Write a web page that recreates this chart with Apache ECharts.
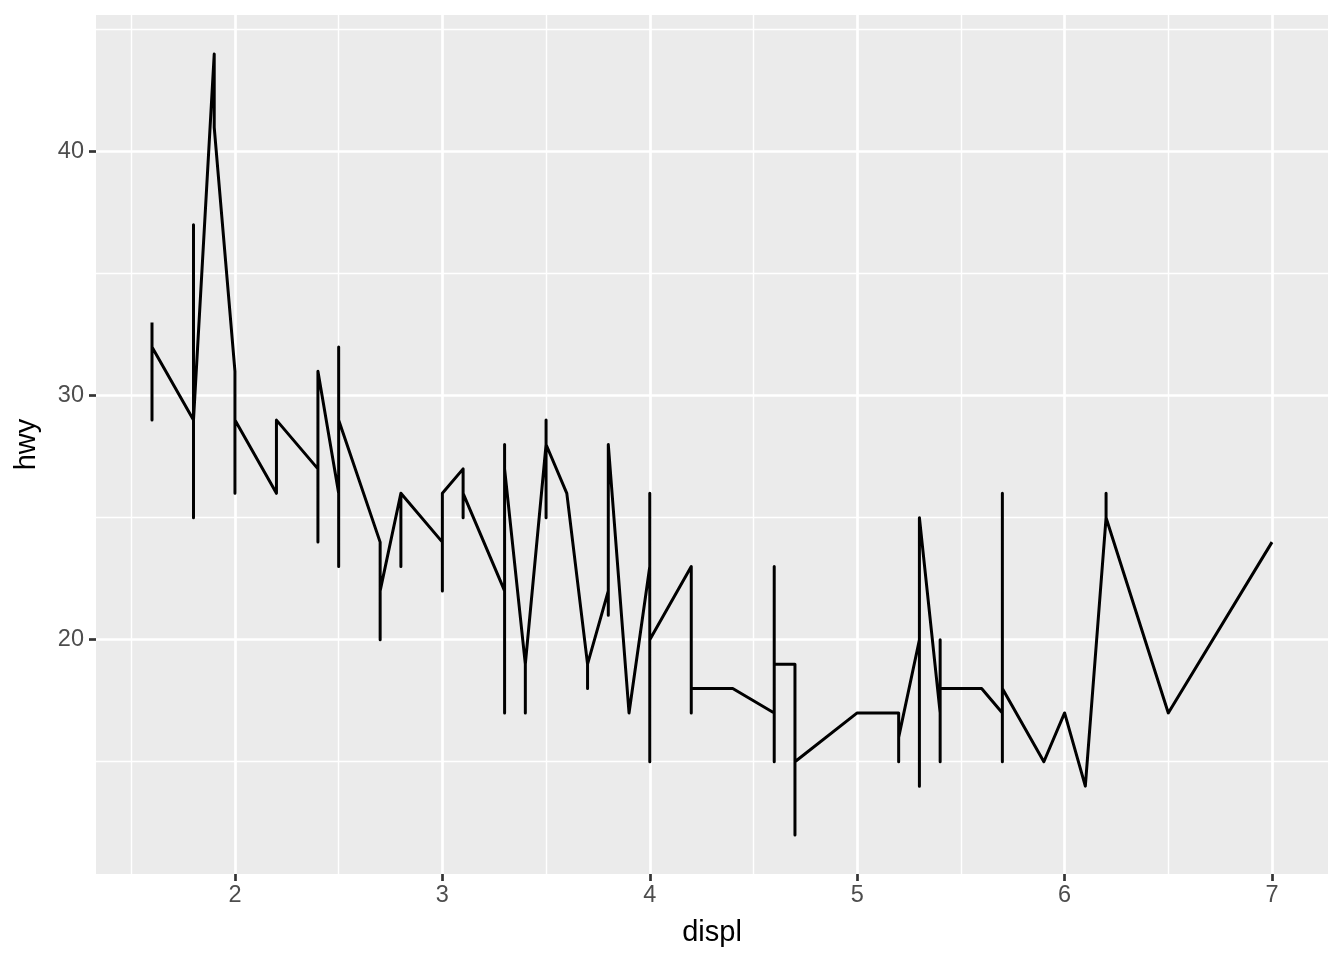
<!DOCTYPE html>
<html>
<head>
<meta charset="utf-8">
<script src="https://cdn.jsdelivr.net/npm/echarts@6/dist/echarts.min.js"></script>
<style>
html,body{margin:0;padding:0;background:#ffffff;}
#chart{width:1344px;height:960px;}
</style>
</head>
<body>
<div id="chart"></div>
<script>
// path points in drawing order (sorted by displ)
const displ = [
  1.6,1.6,1.6,
  1.8,1.8,1.8,1.8,
  1.9,1.9,
  2.0,2.0,2.0,
  2.2,2.2,
  2.4,2.4,2.4,
  2.5,2.5,2.5,2.5,
  2.7,2.7,2.7,
  2.8,2.8,2.8,
  3.0,3.0,3.0,
  3.1,3.1,3.1,
  3.3,3.3,3.3,3.3,
  3.4,3.4,3.4,
  3.5,3.5,3.5,3.5,
  3.6,
  3.7,3.7,3.7,
  3.8,3.8,3.8,
  3.9,
  4.0,4.0,4.0,4.0,
  4.2,4.2,4.2,
  4.4,
  4.6,4.6,4.6,4.6,
  4.7,4.7,4.7,
  5.0,
  5.2,5.2,5.2,
  5.3,5.3,5.3,
  5.4,5.4,5.4,5.4,
  5.6,
  5.7,5.7,5.7,5.7,
  5.9,
  6.0,
  6.1,
  6.2,6.2,6.2,
  6.5,
  7.0
];
const hwy = [
  33,29,32,
  29,37,25,29,
  44,41,
  31,26,29,
  26,29,
  27,24,31,
  26,32,23,29,
  24,20,22,
  26,23,26,
  24,22,26,
  27,25,26,
  22,28,17,27,
  19,17,19,
  28,29,25,28,
  26,
  19,18,19,
  22,21,28,
  17,
  23,26,15,20,
  23,17,18,
  18,
  17,23,15,19,
  19,12,15,
  17,
  17,15,16,
  20,14,25,
  17,20,15,18,
  18,
  17,26,15,18,
  15,
  17,
  14,
  25,26,25,
  17,
  24
];
const xMajor = [2,3,4,5,6,7];
const xMinor = [1.5,2.5,3.5,4.5,5.5,6.5];
const yMajor = [20,30,40];
const yMinor = [15,25,35,45];

const points = displ.map((x,i)=>[x,hwy[i]]);

const gridLines = []
  .concat(xMinor.map(v=>({xAxis:v, lineStyle:{width:1.4}})))
  .concat(yMinor.map(v=>({yAxis:v, lineStyle:{width:1.4}})))
  .concat(xMajor.map(v=>({xAxis:v, lineStyle:{width:2.7}})))
  .concat(yMajor.map(v=>({yAxis:v, lineStyle:{width:2.7}})));

const chart = echarts.init(document.getElementById('chart'), null, {renderer:'canvas'});
const FONT = '"Liberation Sans", Arial, Helvetica, sans-serif';
chart.setOption({
  animation:false,
  backgroundColor:'#ffffff',
  grid:{left:96,right:16,top:15,bottom:86,show:true,backgroundColor:'#EBEBEB',borderWidth:0,containLabel:false},
  xAxis:{
    type:'value',min:1.33,max:7.27,
    name:'displ',nameLocation:'middle',nameGap:44,
    nameTextStyle:{fontFamily:FONT,fontSize:29,color:'#000000'},
    axisLine:{show:false},
    axisTick:{show:true,length:7,lineStyle:{color:'#333333',width:2.7},customValues:xMajor},
    axisLabel:{fontFamily:FONT,fontSize:23.5,color:'#4D4D4D',margin:10,customValues:xMajor},
    splitLine:{show:false}
  },
  yAxis:{
    type:'value',min:10.4,max:45.6,
    name:'hwy',nameLocation:'middle',nameGap:55,nameRotate:90,
    nameTextStyle:{fontFamily:FONT,fontSize:29,color:'#000000'},
    axisLine:{show:false},
    axisTick:{show:true,length:7,lineStyle:{color:'#333333',width:2.7},customValues:yMajor},
    axisLabel:{fontFamily:FONT,fontSize:23.5,color:'#4D4D4D',margin:12,customValues:yMajor},
    splitLine:{show:false}
  },
  series:[
    {
      type:'line',data:[],z:1,silent:true,
      markLine:{
        silent:true,symbol:['none','none'],animation:false,
        label:{show:false},
        lineStyle:{color:'#FFFFFF',type:'solid'},
        emphasis:{disabled:true},
        data:gridLines
      }
    },
    {
      type:'line',data:points,zlevel:1,z:3,showSymbol:false,symbol:'none',silent:true,
      lineStyle:{color:'#000000',width:3,join:'round',cap:'butt'}
    }
  ]
});
</script>
</body>
</html>
